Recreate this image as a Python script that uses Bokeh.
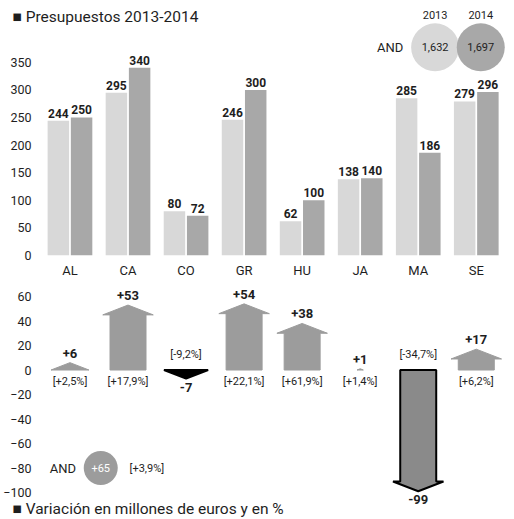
from bokeh.plotting import figure
from bokeh.models import FixedTicker, Range1d
from bokeh.layouts import column
from bokeh.embed import file_html
from bokeh.resources import INLINE
from bokeh.core.properties import value

# ---------------- data ----------------
regions = ["AL", "CA", "CO", "GR", "HU", "JA", "MA", "SE"]
budget_2013 = [244, 295, 80, 246, 62, 138, 285, 279]
budget_2014 = [250, 340, 72, 300, 100, 140, 186, 296]
change = [6, 53, -7, 54, 38, 1, -99, 17]
change_labels = ["+6", "+53", "-7", "+54", "+38", "+1", "-99", "+17"]
change_pct = ["[+2,5%]", "[+17,9%]", "[-9,2%]", "[+22,1%]", "[+61,9%]", "[+1,4%]", "[-34,7%]", "[+6,2%]"]
top_ticks = [0, 50, 100, 150, 200, 250, 300, 350]
bottom_ticks = [-100, -80, -60, -40, -20, 0, 20, 40, 60]
years = ["2013", "2014"]
and_name = "AND"
and_totals = ["1,632", "1,697"]
and_change = "+65"
and_change_pct = "[+3,9%]"
title_top = "\u25a0 Presupuestos 2013-2014"
title_bottom = "\u25a0 Variaci\u00f3n en millones de euros y en %"

# ---------------- style / layout ----------------
FONT = value("Roboto")
TXT = "#1e1e1e"
C13 = "#d8d8d8"
C14 = "#a8a8a8"
CUP = "#9c9c9c"
CDOWN = "#8a8a8a"

W = 512
PX = 58.5            # pixels per category
X0 = -0.628          # left edge of x range (category units)
X1 = X0 + W / PX


def xpx(px):
    """horizontal page pixel -> category units (for annotations only)"""
    return X0 + px / PX


xc = [i + 0.5 for i in range(len(regions))]


def style(p):
    p.outline_line_color = None
    p.xgrid.grid_line_color = None
    p.ygrid.grid_line_color = None
    p.background_fill_color = "white"
    p.border_fill_color = "white"
    for ax in p.yaxis:
        ax.axis_line_color = None
        ax.major_tick_line_color = None
        ax.minor_tick_line_color = None
        ax.major_tick_out = 0
        ax.major_tick_in = 0
        ax.minor_tick_out = 0
        ax.minor_tick_in = 0
        ax.major_label_text_font = "Roboto"
        ax.major_label_text_font_size = "12.5px"
        ax.major_label_text_color = TXT
        ax.major_label_standoff = -27


# ---------------- top chart ----------------
H1 = 280
p1 = figure(width=W, height=H1, x_range=Range1d(X0, X1), y_range=Range1d(0, 461.9),
            output_backend="svg", toolbar_location=None, title_location=None,
            min_border_left=0, min_border_right=0, min_border_top=0, min_border_bottom=24)
style(p1)
p1.yaxis.ticker = FixedTicker(ticks=top_ticks)
p1.xaxis.ticker = FixedTicker(ticks=xc)
p1.xaxis.major_label_overrides = {x: r for x, r in zip(xc, regions)}
p1.xaxis.axis_line_color = None
p1.xaxis.major_tick_line_color = None
p1.xaxis.minor_tick_line_color = None
p1.xaxis.major_tick_out = 0
p1.xaxis.major_tick_in = 0
p1.xaxis.minor_tick_out = 0
p1.xaxis.minor_tick_in = 0
p1.xaxis.major_label_text_font = "Roboto"
p1.xaxis.major_label_text_font_size = "13px"
p1.xaxis.major_label_text_color = TXT
p1.xaxis.major_label_standoff = 7

x13 = [x - 0.2 for x in xc]
x14 = [x + 0.2 for x in xc]
p1.vbar(x=x13, top=budget_2013, width=0.37, fill_color=C13, line_color=None)
p1.vbar(x=x14, top=budget_2014, width=0.37, fill_color=C14, line_color=None)
p1.text(x=x13, y=budget_2013, text=[str(v) for v in budget_2013], text_font=FONT,
        text_font_size="12px", text_font_style="bold", text_color=TXT,
        text_align="center", text_baseline="bottom", y_offset=-3)
p1.text(x=x14, y=budget_2014, text=[str(v) for v in budget_2014], text_font=FONT,
        text_font_size="12px", text_font_style="bold", text_color=TXT,
        text_align="center", text_baseline="bottom", y_offset=-3)

# legend bubbles (AND totals)
bx = [xpx(434), xpx(480)]
p1.scatter(x=bx, y=[377, 377], size=48, fill_color=[C13, C14], line_color=None)
p1.text(x=bx, y=[377, 377], text=and_totals, text_font=FONT, text_font_size="11px",
        text_color=TXT, text_align="center", text_baseline="middle")
p1.text(x=bx, y=[435.6, 435.6], text=years, text_font=FONT, text_font_size="11px",
        text_color=TXT, text_align="center", text_baseline="middle")
p1.text(x=[xpx(402)], y=[377], text=[and_name], text_font=FONT, text_font_size="13px",
        text_color=TXT, text_align="right", text_baseline="middle")

p1.text(x=[xpx(8)], y=[431.2], text=[title_top], text_font=FONT, text_font_size="15.5px",
        text_color=TXT, text_align="left", text_baseline="middle")

# ---------------- bottom chart ----------------
H2 = 237
p2 = figure(width=W, height=H2, x_range=Range1d(X0, X1), y_range=Range1d(-120.4, 73.06),
            output_backend="svg", toolbar_location=None, title_location=None,
            min_border_left=0, min_border_right=0, min_border_top=0, min_border_bottom=0)
style(p2)
p2.xaxis.visible = False
p2.yaxis.ticker = FixedTicker(ticks=bottom_ticks)

HW, BW, HH = 0.435, 0.31, 8


def arrow(x, v):
    a = abs(v)
    if a <= HH:
        hw = HW * max(a, 1) / HH
        return [x - hw, x, x + hw], [0, v, 0]
    base = (a - HH) * (1 if v > 0 else -1)
    return ([x - BW, x - BW, x - HW, x, x + HW, x + BW, x + BW],
            [0, base, base, v, base, base, 0])


up_xs, up_ys, dn_xs, dn_ys, dn_fill = [], [], [], [], []
for x, v in zip(xc, change):
    ax_, ay_ = arrow(x, v)
    if v >= 0:
        up_xs.append(ax_); up_ys.append(ay_)
    else:
        dn_xs.append(ax_); dn_ys.append(ay_)
        dn_fill.append("black" if abs(v) <= HH else CDOWN)
p2.patches(xs=up_xs, ys=up_ys, fill_color=CUP, line_color=CUP)
p2.patches(xs=dn_xs, ys=dn_ys, fill_color=dn_fill, line_color="black", line_width=2)

ux = [x for x, v in zip(xc, change) if v >= 0]
uv = [v for v in change if v >= 0]
ul = [l for l, v in zip(change_labels, change) if v >= 0]
up_pct = [l for l, v in zip(change_pct, change) if v >= 0]
dx = [x for x, v in zip(xc, change) if v < 0]
dv = [v for v in change if v < 0]
dl = [l for l, v in zip(change_labels, change) if v < 0]
dn_pct = [l for l, v in zip(change_pct, change) if v < 0]

p2.text(x=ux, y=uv, text=ul, text_font=FONT, text_font_size="13px", text_font_style="bold",
        text_color=TXT, text_align="center", text_baseline="bottom", y_offset=-5)
p2.text(x=ux, y=[0] * len(ux), text=up_pct, text_font=FONT, text_font_size="11px",
        text_color=TXT, text_align="center", text_baseline="top", y_offset=5)
p2.text(x=dx, y=dv, text=dl, text_font=FONT, text_font_size="13px", text_font_style="bold",
        text_color=TXT, text_align="center", text_baseline="top", y_offset=4)
p2.text(x=dx, y=[0] * len(dx), text=dn_pct, text_font=FONT, text_font_size="11px",
        text_color=TXT, text_align="center", text_baseline="bottom", y_offset=-9)

# AND change bubble
and_y = -80
p2.scatter(x=[xpx(97)], y=[and_y], size=34, fill_color=CUP, line_color=None)
p2.text(x=[xpx(97)], y=[and_y], text=[and_change], text_font=FONT, text_font_size="11px",
        text_color="white", text_align="center", text_baseline="middle")
p2.text(x=[xpx(72)], y=[and_y], text=[and_name], text_font=FONT, text_font_size="13px",
        text_color=TXT, text_align="right", text_baseline="middle")
p2.text(x=[xpx(126)], y=[and_y], text=[and_change_pct], text_font=FONT, text_font_size="11px",
        text_color=TXT, text_align="left", text_baseline="middle")

p2.text(x=[xpx(8)], y=[-113.1], text=[title_bottom], text_font=FONT, text_font_size="15.5px",
        text_color=TXT, text_align="left", text_baseline="middle")

layout = column(p1, p2, spacing=0)
open("out.html", "w").write(file_html(layout, INLINE))
